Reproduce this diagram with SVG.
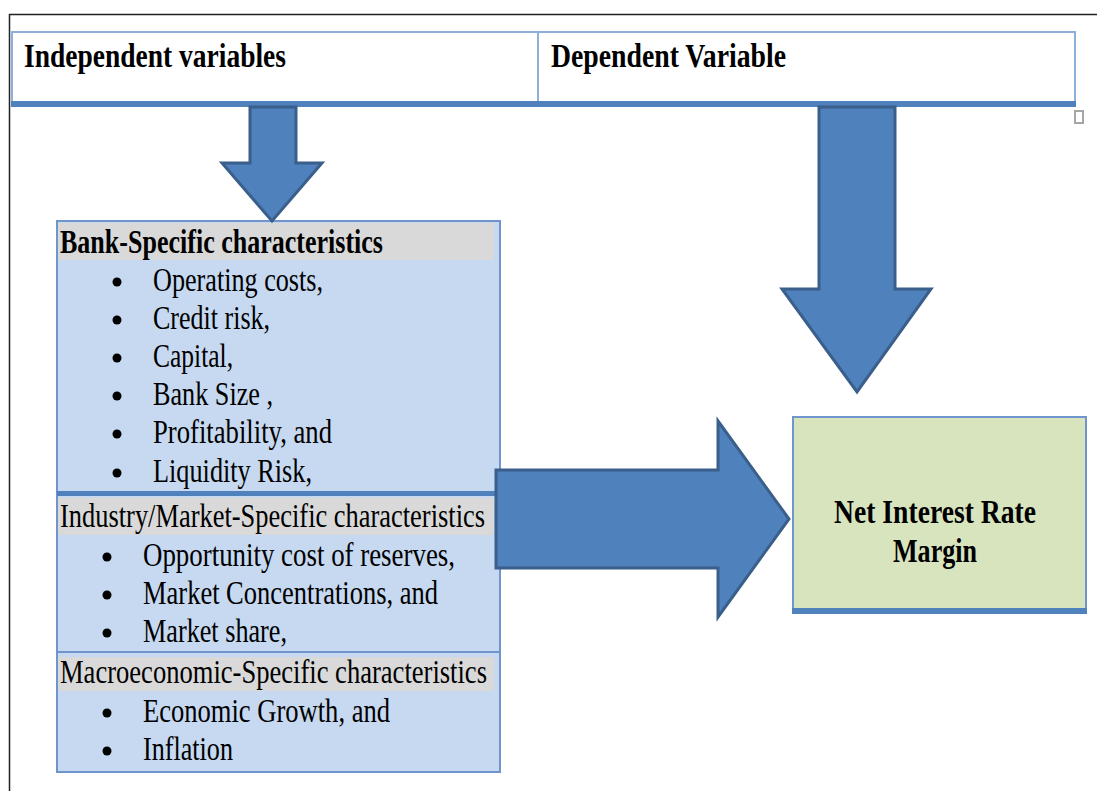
<svg xmlns="http://www.w3.org/2000/svg" width="1097" height="791" viewBox="0 0 1097 791">
<style>
.t{font-family:"Liberation Serif","Times New Roman",serif;font-size:33px;fill:#000}
.b{font-weight:bold}
.bul{fill:#000}
.arrow{fill:#4F81BD;stroke:#3A5F8B;stroke-width:3;stroke-linejoin:miter}
.hl{fill:#D9D9D9}
</style>
<rect width="1097" height="791" fill="#fff"/>
<g id="frame">
<line x1="9" y1="14.5" x2="1097" y2="14.5" stroke="#222" stroke-width="1.5"/>
<line x1="9.5" y1="14" x2="9.5" y2="791" stroke="#222" stroke-width="1.5"/>
</g>
<g id="header">
<rect x="12" y="32" width="1063" height="71" fill="#fff" stroke="#8DB0DA" stroke-width="2"/>
<line x1="538" y1="32" x2="538" y2="103" stroke="#8DB0DA" stroke-width="2"/>
<rect x="11" y="101" width="1065" height="6" fill="#4F81BD"/>
<text class="t b" x="24" y="67" font-size="35" textLength="262" lengthAdjust="spacingAndGlyphs">Independent variables</text>
<text class="t b" x="551" y="67" font-size="35" textLength="235" lengthAdjust="spacingAndGlyphs">Dependent Variable</text>
<rect x="1075" y="111" width="8" height="12" fill="none" stroke="#A6A6A6" stroke-width="2"/>
</g>
<g id="independent-box">
<rect x="57" y="221" width="443" height="551" fill="#C6D9F1" stroke="#6F95CC" stroke-width="2"/>
<rect class="hl" x="58" y="223" width="436" height="37"/>
<text class="t b" x="60" y="253" textLength="323" lengthAdjust="spacingAndGlyphs">Bank-Specific characteristics</text>
<circle class="bul" cx="117" cy="282" r="4.5"/>
<circle class="bul" cx="117" cy="320" r="4.5"/>
<circle class="bul" cx="117" cy="358" r="4.5"/>
<circle class="bul" cx="117" cy="396" r="4.5"/>
<circle class="bul" cx="117" cy="434" r="4.5"/>
<circle class="bul" cx="117" cy="473" r="4.5"/>
<text class="t" x="153" y="291" textLength="170" lengthAdjust="spacingAndGlyphs">Operating costs,</text>
<text class="t" x="153" y="329" textLength="117" lengthAdjust="spacingAndGlyphs">Credit risk,</text>
<text class="t" x="153" y="367" textLength="80" lengthAdjust="spacingAndGlyphs">Capital,</text>
<text class="t" x="153" y="405" textLength="120" lengthAdjust="spacingAndGlyphs">Bank Size ,</text>
<text class="t" x="153" y="443" textLength="179" lengthAdjust="spacingAndGlyphs">Profitability, and</text>
<text class="t" x="153" y="482" textLength="159" lengthAdjust="spacingAndGlyphs">Liquidity Risk,</text>
<rect x="57" y="491" width="443" height="5" fill="#4F81BD"/>
<rect class="hl" x="58" y="498" width="436" height="37"/>
<text class="t" x="60" y="527" textLength="425" lengthAdjust="spacingAndGlyphs">Industry/Market-Specific characteristics</text>
<circle class="bul" cx="107" cy="557" r="4.5"/>
<circle class="bul" cx="107" cy="595" r="4.5"/>
<circle class="bul" cx="107" cy="633" r="4.5"/>
<text class="t" x="143" y="566" textLength="312" lengthAdjust="spacingAndGlyphs">Opportunity cost of reserves,</text>
<text class="t" x="143" y="604" textLength="295" lengthAdjust="spacingAndGlyphs">Market Concentrations, and</text>
<text class="t" x="143" y="642" textLength="144" lengthAdjust="spacingAndGlyphs">Market share,</text>
<line x1="57" y1="652" x2="500" y2="652" stroke="#6F95CC" stroke-width="2"/>
<rect class="hl" x="58" y="657" width="436" height="34"/>
<text class="t" x="60" y="683" textLength="427" lengthAdjust="spacingAndGlyphs">Macroeconomic-Specific characteristics</text>
<circle class="bul" cx="107" cy="713" r="4.5"/>
<circle class="bul" cx="107" cy="751" r="4.5"/>
<text class="t" x="143" y="722" textLength="247" lengthAdjust="spacingAndGlyphs">Economic Growth, and</text>
<text class="t" x="143" y="760" textLength="90" lengthAdjust="spacingAndGlyphs">Inflation</text>
</g>
<g id="nirm-box">
<rect x="793" y="417" width="293" height="193" fill="#D7E4BD" stroke="#6F95CC" stroke-width="2"/>
<rect x="792" y="608" width="295" height="6" fill="#4F81BD"/>
<text class="t b" x="834" y="523" font-size="30" textLength="202" lengthAdjust="spacingAndGlyphs">Net Interest Rate</text>
<text class="t b" x="893" y="562" font-size="30" textLength="84" lengthAdjust="spacingAndGlyphs">Margin</text>
</g>
<g id="connectors">
<polygon class="arrow" points="250,107 296,107 296,163 322,163 272,221 222,163 250,163"/>
<polygon class="arrow" points="819,107 895,107 895,289 931,289 857,392 782,289 819,289"/>
<polygon class="arrow" points="496,470 718,470 718,421 789,519 718,617 718,568 496,568"/>
</g>
</svg>
